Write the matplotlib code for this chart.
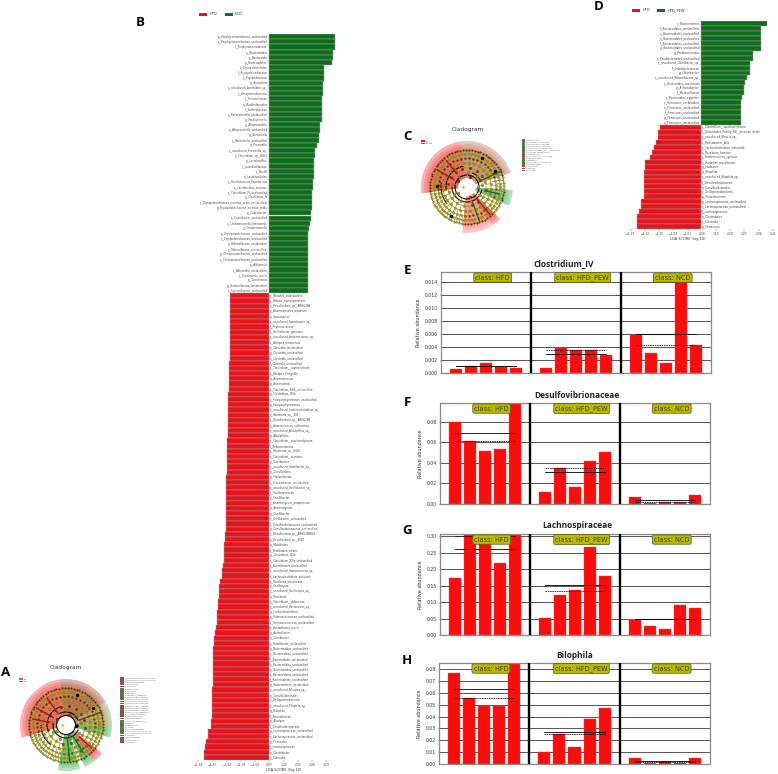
import numpy as np
import matplotlib
matplotlib.use('Agg')
import matplotlib.pyplot as plt
from matplotlib.patches import Wedge, Rectangle, Arc

W, H = 778, 774

RED = '#e8131a'
GREEN = '#0f6e1c'

# panel B
b_green_names = [
    'g__Porphyromonadaceae_unclassified', 's__Porphyromonadaceae_unclassified', 'f__Porphyromonadaceae',
    'o__Bacteroidales', 'c__Bacteroidia', 'p__Bacteroidetes', 'o__Erysipelotrichales', 'f__Erysipelotrichaceae',
    'c__Erysipelotrichia', 'g__Acetivibrio', 's__uncultured_Acetivibrio_sp_', 'c__Betaproteobacteria',
    'f__Prevotellaceae', 'o__Burkholderiales', 'f__Sutterellaceae', 's__Parasutterella_unclassified',
    'g__Parasutterella', 'g__Alloprevotella', 's__Alloprevotella_unclassified', 'g__Barnesiella',
    's__Barnesiella_unclassified', 'g__Prevotella', 's__uncultured_Prevotella_sp_', 's__Clostridium_sp__BR31',
    'g__Lactobacillus', 'f__Lactobacillaceae', 'c__Bacilli', 'o__Lactobacillales', 's__Ruminococcus_flavefaciens',
    's__Lactobacillus_murinus', 's__Clostridium_IV_unclassified', 'g__Clostridium_IV',
    's__Erysipelotrichaceae_incertae_sedis_unclassified', 'g__Erysipelotrichaceae_incertae_sedis',
    'g__Coprobacter', 's__Coprobacter_unclassified', 's__Christensenella_timonensis', 'g__Christensenella',
    'g__Erysipelotrichaceae_unclassified', 's__Erysipelotrichaceae_unclassified', 'g__Rikenellaceae_unclassified',
    's__Rikenellaceae_unclassified', 'g__Christensenellaceae_unclassified', 's__Christensenellaceae_unclassified',
    'g__Allisonella', 's__Allisonella_unclassified', 's__Turicimonas_muris', 'g__Turicimonas',
    'g__Sutterellaceae_unclassified', 's__Sutterellaceae_unclassified',
]
b_green_vals = [
    5.24, 5.24, 5.24, 5.11, 5.11, 5.00, 4.42, 4.42, 4.42, 4.31, 4.31, 4.29, 4.26, 4.26, 4.26, 4.21, 4.21,
    4.05, 4.05, 4.02, 4.02, 3.81, 3.70, 3.65, 3.60, 3.60, 3.57, 3.57, 3.54, 3.52, 3.44, 3.44, 3.41, 3.41,
    3.39, 3.39, 3.25, 3.17, 3.15, 3.15, 3.15, 3.15, 3.15, 3.15, 3.12, 3.12, 3.12, 3.12, 3.10, 3.10,
]
b_red_names = [
    's__Bilophila_wadsworthia', 's__Blautia_hominigenerans', 's__Desulfovibrio_sp__ABHU2SB',
    's__Anaerobiotalea_aquarum', 'g__Sporobacter', 's__uncultured_Sporobacter_sp_', 'f__Peptococcaceae',
    's__Helicobacter_ganmani', 's__uncultured_Anaerotruncus_sp_', 's__Alistipes_timonensis',
    's__Clostridia_unclassified', 'g__Clostridia_unclassified', 'o__Clostridia_unclassified',
    'f__Clostridia_unclassified', 's__Clostridium__ruptoelyticum', 's__Alistipes_finegoldii', 'g__Anaerotruncus',
    'g__Anaerovibrio', 's__Clostridium_XIVb_unclassified', 'g__Clostridium_XIVb',
    's__Falsiporphyromonas_unclassified', 'g__Falsiporphyromonas', 's__uncultured_Lachnoclostridium_sp_',
    's__Roseburia_sp__499', 's__Desulfovibrio_sp__ABHU2SB', 's__Anaerotruncus_colihominis',
    's__uncultured_Alkaliphilus_sp_', 'g__Alkaliphilus', 's__Clostridium__saccharolyticum', 'f__Ileibacteriaceae',
    's__Roseburia_sp__831b', 's__Clostridium__scindens', 'g__Odoribacter', 's__uncultured_Odoribacter_sp_',
    'g__Desulfovibrio', 'g__Flavonifractor', 's__Flavonifractor_unclassified', 's__uncultured_Oscillibacter_sp_',
    'f__Oscillospiraceae', 'g__Oscillibacter', 's__Anaerotignum_propionicum', 'g__Anaerotignum',
    'g__Oscillibacter', 's__Oscillibacter_unclassified', 's__Desulfovibrionaceae_unclassified',
    'g__Desulfovibrionaceae_unclassified', 's__Desulfovibrio_sp__ABHU2SBB45', 's__Desulfovibrio_sp__6060',
    'g__Mobilitalea', 's__Mobilitalea_sitiens', 'g__Clostridium_XIVa', 's__Clostridium_XIVa_unclassified',
    's__Acetatifactor_unclassified', 's__uncultured_Ruminococcus_sp_', 's__Lachnoclostridium_edouardii',
    's__Roseburia_intestinalis', 'g__Oscillospira', 's__uncultured_Oscillospira_sp_', 'g__Roseburia',
    's__Clostridium__aldenense', 's__uncultured_Bacteroides_sp_', 'g__Lachnoclostridium',
    'g__Ruminococcaceae_unclassified', 's__Ruminococcaceae_unclassified', 's__Acetatifactor_muris',
    'g__Acetatifactor', 'g__Odoribacter', 's__Odoribacter_unclassified', 'g__Bacteroidales_unclassified',
    's__Bacteroidales_unclassified', 'f__Bacteroidales_unclassified', 'c__Bacteroidales_unclassified',
    'o__Bacteroidales_unclassified', 's__Bacteroidetes_unclassified', 'f__Bacteroidetes_unclassified',
    'g__Bacteroidetes_unclassified', 's__uncultured_Alistipes_sp_', 'o__Desulfovibrionales',
    'c__Deltaproteobacteria', 's__uncultured_Bilophila_sp_', 'g__Bilophila', 'f__Rikenellaceae', 'g__Alistipes',
    'f__Desulfovibrionaceae', 'g__Lachnospiraceae_unclassified', 's__Lachnospiraceae_unclassified',
    'p__Firmicutes', 'f__Lachnospiraceae', 'o__Clostridiales', 'c__Clostridia',
]
b_red_vals = [
    3.04, 3.04, 3.04, 3.05, 3.09, 3.09, 3.09, 3.09, 3.10, 3.10, 3.10, 3.10, 3.10, 3.12, 3.12, 3.18, 3.18, 3.18,
    3.18, 3.22, 3.22, 3.25, 3.25, 3.26, 3.26, 3.26, 3.26, 3.26, 3.30, 3.30, 3.30, 3.30, 3.33, 3.33, 3.33, 3.36,
    3.36, 3.36, 3.38, 3.38, 3.38, 3.38, 3.39, 3.39, 3.39, 3.41, 3.44, 3.49, 3.54, 3.54, 3.57, 3.57, 3.60, 3.68,
    3.73, 3.84, 3.92, 3.94, 3.97, 4.05, 4.05, 4.07, 4.10, 4.10, 4.21, 4.29, 4.37, 4.37, 4.39, 4.39, 4.39, 4.39,
    4.39, 4.39, 4.39, 4.39, 4.47, 4.50, 4.50, 4.50, 4.50, 4.52, 4.55, 4.55, 4.84, 4.84, 4.97, 5.05, 5.11, 5.11,
]
b_ticks = [-5.58, -4.45, -3.32, -2.19, -1.06, 0.07, 1.20, 2.33, 3.46, 4.59]

# panel D
d_green_names = [
    'c__Bacteroidetes', 'f__Bacteroidales_unclassified', 's__Bacteroidales_unclassified',
    'o__Bacteroidales_unclassified', 'f__Bacteroidetes_unclassified', 'g__Bacteroidales_unclassified',
    'g__Parabacteroides', 's__Parabacteroides_unclassified', 's__uncultured_Odoribacter_sp_',
    'f__Odoribacteraceae', 'g__Odoribacter', 's__uncultured_Rikenellaceae_sp_', 's__Bacteroides_caecimuris',
    'g__Acinetobacter', 'f__Moraxellaceae', 's__Bacteroides_eggerthii', 's__Firmicutes_unclassified',
    'o__Firmicutes_unclassified', 'f__Firmicutes_unclassified', 'g__Firmicutes_unclassified',
    'c__Firmicutes_unclassified',
]
d_green_vals = [4.99, 4.49, 4.49, 4.49, 4.49, 4.49, 3.91, 3.91, 3.68, 3.68, 3.68, 3.43, 3.31, 3.26, 3.26, 3.08,
                3.01, 3.01, 3.01, 3.01, 3.01]
d_red_names = [
    's__Clostridium__saccharolyticum', 'f__Clostridiales_Family_XIII__Incertae_Sedis', 's__uncultured_Blautia_sp_',
    's__Helicobacter_bilis', 's__Lachnoclostridium_edouardii', 's__Roseburia_hominis', 's__Ruminococcus__gnavus',
    's__Hudaster_massiliensis', 'g__Hudaster', 'g__Bilophila', 's__uncultured_Bilophila_sp_',
    'f__Desulfovibrionaceae', 'o__Desulfovibrionales', 'c__Deltaproteobacteria', 'p__Proteobacteria',
    'g__Lachnospiraceae_unclassified', 's__Lachnospiraceae_unclassified', 'f__Lachnospiraceae', 'o__Clostridiales',
    'c__Clostridia', 'p__Firmicutes',
]
d_red_vals = [3.06, 3.26, 3.26, 3.41, 3.53, 3.66, 3.81, 4.19, 4.21, 4.26, 4.26, 4.29, 4.29, 4.29, 4.29, 4.51, 4.51,
              4.66, 4.79, 4.79, 4.81]
d_ticks = [-5.29, -4.22, -3.15, -2.08, -1.01, 0.06, 1.13, 2.20, 3.27, 4.34, 5.41]

# panels E-H, five samples per class
e_vals = [0.0006, 0.0011, 0.0016, 0.0009, 0.0008, 0.0007, 0.0039, 0.0035, 0.0036, 0.0027,
          0.0058, 0.0030, 0.0015, 0.0160, 0.0043]
e_mean = [0.0010, 0.0029, 0.0060]
e_median = [0.0010, 0.0035, 0.0043]
e_yticks = [0.000, 0.002, 0.004, 0.006, 0.008, 0.010, 0.012, 0.014]

f_vals = [0.080, 0.061, 0.052, 0.054, 0.105, 0.012, 0.0355, 0.017, 0.0415, 0.0505,
          0.007, 0.0008, 0.0015, 0.0015, 0.009]
f_mean = [0.069, 0.031, 0.004]
f_median = [0.061, 0.0355, 0.0015]
f_yticks = [0.00, 0.02, 0.04, 0.06, 0.08]

g_vals = [0.173, 0.32, 0.28, 0.22, 0.32, 0.051, 0.122, 0.136, 0.268, 0.18,
          0.047, 0.027, 0.017, 0.09, 0.081]
g_mean = [0.26, 0.151, 0.049]
g_median = [0.30, 0.135, 0.048]
g_yticks = [0.00, 0.05, 0.10, 0.15, 0.20, 0.25, 0.30]

h_vals = [0.077, 0.056, 0.049, 0.049, 0.09, 0.010, 0.0255, 0.014, 0.038, 0.047,
          0.005, 0.0008, 0.0015, 0.0012, 0.005]
h_mean = [0.0635, 0.027, 0.0027]
h_median = [0.0555, 0.0255, 0.0013]
h_yticks = [0.00, 0.01, 0.02, 0.03, 0.04, 0.05, 0.06, 0.07, 0.08]

classes = ['HFD', 'HFD_PEW', 'NCD']

# cladograms: highlighted clades as (start deg, end deg, colour)
a_sectors = [(98, 196, '#f03a3a'), (30, 98, '#a04a2c'), (0, 30, '#94944a'), (-16, 0, '#48b056'),
             (-52, -38, '#f03a3a'), (-66, -52, '#48b056'), (-100, -72, '#48b056')]
c_sectors = [(98, 188, '#f03a3a'), (18, 98, '#b87a56'), (-24, -4, '#58b062'),
             (-56, -44, '#f03a3a'), (-96, -56, '#ff7878')]
ring_radius = [11, 15, 19, 24, 29, 33, 37]
ring_nodes = [5, 9, 16, 28, 44, 62, 80]
a_black_arcs = [(9.5, 0, 360), (13, 170, 340), (13, 20, 120), (19, 105, 200), (25, 180, 232)]
c_black_arcs = [(12, 0, 360), (15, 180, 350), (21, 100, 190), (15, 20, 70), (26, 170, 220)]
# thick coloured clade stems (deg, inner r, outer r, colour)
a_stems = [(20, 14, 38, '#8c2a1c'), (-58, 13, 32, '#1c6b22'), (-84, 14, 36, '#1c6b22'), (-42, 18, 34, '#b01c1c'),
           (150, 15, 34, '#a01c1c'), (125, 15, 33, '#a01c1c'), (170, 17, 34, '#a01c1c')]
c_stems = [(25, 14, 38, '#1c6b22'), (-70, 16, 36, '#1c6b22'), (-50, 16, 36, '#a01c1c'), (150, 15, 34, '#a01c1c'),
           (128, 17, 33, '#a01c1c'), (-12, 18, 33, '#1c6b22')]
# large dark nodes (deg, r)
a_big_nodes = [(70, 32), (32, 32), (-8, 10)]
c_big_nodes = [(62, 33), (30, 32), (178, 30), (-120, 33)]

a_legend_colors = ['#7a1f1f', '#7a1f1f', '#7a1f1f', '#7a3030', '#7a1f1f', '#1f5f24', '#7a1f1f', '#1f5f24', '#1f5f24',
                   '#7a1f1f', '#1f5f24', '#1f5f24', '#7a1f1f', '#7a1f1f', '#7a1f1f', '#1f5f24', '#7a1f1f', '#7a1f1f',
                   '#7a1f1f', '#1f5f24', '#1f5f24', '#1f5f24', '#7a1f1f', '#1f5f24', '#1f5f24', '#7a1f1f', '#1f5f24',
                   '#7a1f1f', '#7a1f1f', '#7a1f1f', '#7a1f1f']
c_legend_colors = ['#1f5f24', '#1f5f24', '#1f5f24', '#1f5f24', '#7a1f1f', '#7a1f1f', '#1f5f24', '#7a1f1f', '#7a1f1f',
                   '#1f5f24', '#1f5f24', '#1f5f24', '#7a1f1f', '#7a1f1f', '#7a1f1f', '#7a1f1f', '#1f5f24']

plt.rcParams['font.family'] = ['DejaVu Sans']
fig = plt.figure(figsize=(W / 100, H / 100), dpi=100)


def ax_px(x0, y0, x1, y1, **kw):
    return fig.add_axes([x0 / W, 1 - y1 / H, (x1 - x0) / W, (y1 - y0) / H], **kw)


def lda_panel(box, zero, scale, g_names, g_vals, r_names, r_vals, ticks, label_size):
    ax = ax_px(*box)
    names_n = len(g_vals) + len(r_vals)
    ypos = np.arange(names_n)
    vals = list(g_vals) + [-v for v in r_vals]
    cols = [GREEN] * len(g_vals) + [RED] * len(r_vals)
    ax.barh(ypos, vals, height=1.0, color=cols, edgecolor='#9a9a9a', linewidth=0.35)
    for i, n in enumerate(g_names):
        ax.text(-0.07, i, n, ha='right', va='center', fontsize=label_size, color='#444444')
    for i, n in enumerate(r_names):
        ax.text(0.07, i + len(g_names), n, ha='left', va='center', fontsize=label_size, color='#444444')
    ax.set_xlim((box[0] - zero) / scale, (box[2] - zero) / scale)
    ax.set_ylim(names_n - 0.5, -0.5)
    for s in ax.spines.values():
        s.set_visible(False)
    ax.set_yticks([])
    ax.set_xticks(ticks)
    ax.set_xticklabels([f'{t:.2f}'.replace('-', '\u2212') for t in ticks], fontsize=2.2, color='#444444')
    ax.tick_params(axis='x', length=1.2, width=0.3, pad=1, color='#555555')
    ax.set_xlabel('LDA SCORE (log 10)', fontsize=2.5, labelpad=0.6, color='#333333')
    return ax


lda_panel((190, 34, 378, 760), 268.6, 12.6, b_green_names, b_green_vals, b_red_names, b_red_vals, b_ticks, 1.9)
lda_panel((600, 21, 775, 229), 701, 13.3, d_green_names, d_green_vals, d_red_names, d_red_vals, d_ticks, 2.0)


def abundance_panel(box, vals, means, medians, yticks, ytop, title, title_xy, fmt):
    ax = ax_px(*box)
    xs = [0, 1, 2, 3, 4, 6, 7, 8, 9, 10, 12, 13, 14, 15, 16]
    ax.set_axisbelow(True)
    ax.yaxis.grid(True, color='#5a5a5a', linewidth=0.75)
    ax.bar(xs, vals, width=0.8, color='#fb0d0d', edgecolor='#f04040', linewidth=0.3, zorder=2)
    for x in (5, 11):
        ax.axvline(x, color='black', linewidth=1.7, zorder=3)
    for k, cname in enumerate(classes):
        x0 = 6 * k
        ax.plot([x0, x0 + 4], [means[k]] * 2, color='black', linewidth=0.6, zorder=4)
        ax.plot([x0, x0 + 4], [medians[k]] * 2, color='black', linewidth=0.55, linestyle=(0, (2, 1)), zorder=4)
        ax.text(x0 + 2.45, ytop * 0.945, 'class: ' + cname, ha='center', va='center', fontsize=4.8,
                color='#444400', zorder=6,
                bbox=dict(boxstyle='round,pad=0.25', facecolor='#b9b900', edgecolor='#55551a', linewidth=0.5))
    ax.set_xlim(-1, 17)
    ax.set_ylim(0, ytop)
    ax.set_xticks([2, 8, 14])
    ax.set_xticklabels([])
    ax.set_yticks(yticks)
    ax.set_yticklabels([fmt.format(t) for t in yticks], fontsize=3.3, color='#333333')
    ax.tick_params(length=1.0, width=0.4, pad=1.2, color='#555555')
    ax.set_ylabel('Relative abundance', fontsize=3.5, labelpad=2.5, color='#333333')
    for s in ax.spines.values():
        s.set_color('#8a8a8a')
        s.set_linewidth(0.9)
    fig.text(title_xy[0] / W, 1 - title_xy[1] / H, title, ha='center', va='center', fontsize=6.0,
             fontfamily='Open Sans', fontweight='bold', color='#222222')


abundance_panel((441, 272, 711, 373), e_vals, e_mean, e_median, e_yticks, 0.0155, 'Clostridium_IV', (564, 264), '{:.3f}')
abundance_panel((440, 403, 710, 504), f_vals, f_mean, f_median, f_yticks, 0.0985, 'Desulfovibrionaceae', (577, 396), '{:.2f}')
abundance_panel((440, 534, 710, 635), g_vals, g_mean, g_median, g_yticks, 0.307, 'Lachnospiraceae', (577, 525), '{:.2f}')
abundance_panel((439, 663, 710, 764), h_vals, h_mean, h_median, h_yticks, 0.0853, 'Bilophila', (575, 656), '{:.2f}')


def in_sector(ang, sectors):
    a = (ang + 180) % 360 - 180
    for t0, t1, c in sectors:
        for shift in (-360, 0, 360):
            if t0 <= a + shift <= t1:
                return c
    return None


def cladogram(cx, cy, sectors, black_arcs, stems, big_nodes):
    ax = ax_px(cx - 50, cy - 50, cx + 50, cy + 50)
    ax.set_xlim(-50, 50)
    ax.set_ylim(-50, 50)
    ax.set_aspect('equal')
    ax.axis('off')
    for t0, t1, c in sectors:
        for r, a in zip((46, 43, 40.5, 38, 30), (0.4, 0.22, 0.22, 0.22, 0.18)):
            ax.add_patch(Wedge((0, 0), r, t0, t1, width=r - 9, facecolor=c, alpha=a, linewidth=0))
    # tree skeleton, one ring of evenly placed taxa per level
    olive = '#a89a18'
    for level, (r, n) in enumerate(zip(ring_radius, ring_nodes)):
        angs = np.linspace(0, 360, n, endpoint=False) + 7 * level
        if level >= 2:
            ax.add_patch(Arc((0, 0), 2 * r, 2 * r, theta1=0, theta2=360, color=olive, linewidth=0.6))
        rads = np.deg2rad(angs)
        inner = ring_radius[level - 1] if level else 9.5
        ax.plot(np.vstack([inner * np.cos(rads), r * np.cos(rads)]),
                np.vstack([inner * np.sin(rads), r * np.sin(rads)]), color=olive, linewidth=0.5)
        for ang, ra in zip(angs, rads):
            sec = in_sector(ang, sectors)
            col = olive
            if sec is not None and level % 2 == 0:
                col = '#1c6b22' if sec in ('#48b056', '#58b062') else '#8c1c1c'
            ax.plot(r * np.cos(ra), r * np.sin(ra), 'o', ms=1.25 + 0.15 * (6 - level), mfc=col,
                    mec='#333311', mew=0.15)
    for ang, r0, r1, c in stems:
        ra = np.deg2rad(ang)
        ax.plot([r0 * np.cos(ra), r1 * np.cos(ra)], [r0 * np.sin(ra), r1 * np.sin(ra)], color=c, linewidth=1.0)
    for r, t0, t1 in black_arcs:
        ax.add_patch(Arc((0, 0), 2 * r, 2 * r, theta1=t0, theta2=t1, color='black', linewidth=0.8))
    for ang, r in big_nodes:
        ra = np.deg2rad(ang)
        ax.plot(r * np.cos(ra), r * np.sin(ra), 'o', ms=2.4, mfc='black', mec='none')
    ax.plot(-4.5, 0, 'o', ms=1.8, mfc='#c2b820', mec='none')


cladogram(66, 725, a_sectors, a_black_arcs, a_stems, a_big_nodes)
cladogram(467, 187, c_sectors, c_black_arcs, c_stems, c_big_nodes)

# page overlay in pixel coordinates: panel letters, legends
ov = ax_px(0, 0, W, H)
ov.set_xlim(0, W)
ov.set_ylim(H, 0)
ov.axis('off')
ov.patch.set_alpha(0)

for letter, x, y in [('A', 6, 673), ('B', 140, 22), ('C', 408, 136), ('D', 599, 7), ('E', 408, 271),
                     ('F', 407, 402), ('G', 407, 531), ('H', 407, 661)]:
    ov.text(x, y, letter, ha='center', va='center', fontsize=9.5, fontfamily='Open Sans', fontweight='bold',
            color='black')

for x, name, col, tx in [(199, 'HFD', RED, 210), (225, 'NCD', GREEN, 235)]:
    ov.add_patch(Rectangle((x, 12.5), 8, 3, facecolor=col, edgecolor='none'))
    ov.text(tx, 14, name, fontsize=2.6, va='center', color='#333333')
for x, name, col, tx in [(632, 'HFD', RED, 643), (657, 'HFD_PEW', GREEN, 668)]:
    ov.add_patch(Rectangle((x, 8.5), 8, 3, facecolor=col, edgecolor='none'))
    ov.text(tx, 10, name, fontsize=2.6, va='center', color='#333333')

ov.text(66, 667, 'Cladogram', ha='center', va='center', fontsize=4.2, color='#333333')
ov.text(468, 130, 'Cladogram', ha='center', va='center', fontsize=4.2, color='#333333')

for x, y, names, cols in [(19, 679, ('HFD', 'NCD'), ('#f24a4a', '#2f8a3a')), (421, 141, ('HFD', 'HFD_PEW'), ('#e8131a', '#2f8a3a'))]:
    for i, (n, c) in enumerate(zip(names, cols)):
        ov.add_patch(Rectangle((x, y + i * 2.4 - 0.8), 4, 1.6, facecolor=c, edgecolor='none'))
        ov.text(x + 5, y + i * 2.4, n, fontsize=1.1, va='center', color='#333333')

a_legend_names = (b_green_names[:6] + b_red_names[-25:])
for i, (n, c) in enumerate(zip(a_legend_names, a_legend_colors)):
    y = 678 + i * 2.13
    ov.add_patch(Rectangle((120.5, y - 0.9), 3.2, 1.8, facecolor=c, edgecolor='none', alpha=0.8))
    ov.text(124.5, y, n, fontsize=1.2, va='center', color='#555555')
c_legend_names = d_green_names[:4] + d_red_names[:2] + d_green_names[8:9] + d_red_names[-7:-5] + d_green_names[9:12] + d_red_names[-4:]
for i, (n, c) in enumerate(zip(c_legend_names, c_legend_colors)):
    y = 140 + i * 2.03
    ov.add_patch(Rectangle((522, y - 0.9), 3.2, 1.8, facecolor=c, edgecolor='none', alpha=0.8))
    ov.text(526, y, n, fontsize=1.2, va='center', color='#555555')

fig.savefig('out.png', dpi=100)
